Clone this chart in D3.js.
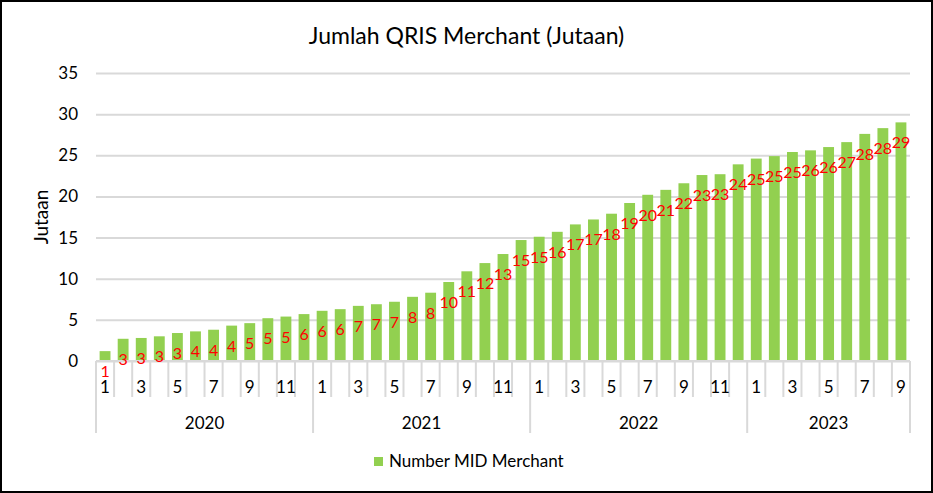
<!DOCTYPE html>
<html>
<head>
<meta charset="utf-8">
<script src="https://cdn.jsdelivr.net/npm/d3@7"></script>
<style>
  body { margin: 0; background: #fff; }
  text { font-family: Lato, "Open Sans", sans-serif; }
</style>
</head>
<body>
<div class="chart"></div>
<script>
// QRIS merchants per month, in millions (Jan 2020 - Sep 2023)
const years = ['2020', '2021', '2022', '2023'];
const monthsPerYear = [12, 12, 12, 9];
const merchants = [
  1.2, 2.7, 2.8, 3.0, 3.4, 3.6, 3.8, 4.3, 4.6, 5.2, 5.4, 5.7,
  6.1, 6.3, 6.7, 6.9, 7.2, 7.8, 8.3, 9.6, 10.9, 11.9, 13.0, 14.7,
  15.1, 15.7, 16.6, 17.2, 17.9, 19.2, 20.2, 20.8, 21.6, 22.6, 22.7, 23.9,
  24.6, 24.9, 25.4, 25.6, 26.0, 26.6, 27.6, 28.3, 29.0
];
const yTicks = [0, 5, 10, 15, 20, 25, 30, 35];

// build category list from years/months
const data = [];
years.forEach((y, yi) => {
  for (let m = 1; m <= monthsPerYear[yi]; m++) {
    data.push({ year: y, month: m, key: y + '-' + m, value: merchants[data.length] });
  }
});

const W = 933, H = 493;
const margin = { top: 73, right: 23, bottom: 132, left: 96 };
const width = W - margin.left - margin.right;
const height = H - margin.top - margin.bottom;

const svg = d3.select('.chart')
  .append('svg')
    .attr('width', W)
    .attr('height', H);

svg.append('rect')
  .attr('x', 1).attr('y', 1)
  .attr('width', W - 2).attr('height', H - 2)
  .attr('fill', '#fff')
  .attr('stroke', '#000')
  .attr('stroke-width', 2);

svg.append('text')
  .attr('x', W / 2).attr('y', 44)
  .attr('text-anchor', 'middle')
  .style('font-size', '23px')
  .attr('fill', '#000')
  .text('Jumlah QRIS Merchant (Jutaan)');

const g = svg.append('g')
  .attr('transform', `translate(${margin.left}, ${margin.top})`);

const xScale = d3.scaleBand()
  .domain(data.map(d => d.key))
  .range([0, width])
  .paddingInner(0.4)
  .paddingOuter(0.2);

const yScale = d3.scaleLinear()
  .domain([0, 35])
  .range([height, 0]);

// gridlines + y labels
const yAxis = g.append('g')
  .call(d3.axisLeft(yScale).tickValues(yTicks).tickSize(-width).tickPadding(18));
yAxis.select('.domain').remove();
yAxis.selectAll('.tick line').attr('stroke', '#d9d9d9').attr('stroke-width', 2);
yAxis.selectAll('.tick text')
  .style('font-size', '17px')
  .attr('fill', '#000');

svg.append('text')
  .attr('transform', `translate(48, 217) rotate(-90)`)
  .attr('text-anchor', 'middle')
  .style('font-size', '19px')
  .text('Jutaan');

// bars
g.selectAll('.bar')
  .data(data)
  .enter()
  .append('rect')
    .attr('class', 'bar')
    .attr('x', d => xScale(d.key))
    .attr('y', d => yScale(d.value))
    .attr('width', xScale.bandwidth())
    .attr('height', d => height - yScale(d.value))
    .attr('fill', '#92d050');

// multi-level category axis
const cat = g.append('g').attr('transform', `translate(0, ${height})`);

cat.append('line')
  .attr('x1', 0).attr('x2', width)
  .attr('y1', 0).attr('y2', 0)
  .attr('stroke', '#d9d9d9').attr('stroke-width', 2);

// month separators, longer at year boundaries
const bounds = d3.range(data.length + 1);
let idx = 0;
const yearStarts = [0];
monthsPerYear.forEach(n => { idx += n; yearStarts.push(idx); });

cat.selectAll('.msep')
  .data(bounds)
  .enter()
  .append('line')
    .attr('x1', i => i * width / data.length)
    .attr('x2', i => i * width / data.length)
    .attr('y1', 0)
    .attr('y2', i => yearStarts.includes(i) ? 72 : 36)
    .attr('stroke', '#d9d9d9')
    .attr('stroke-width', 2);

cat.selectAll('.mlabel')
  .data(data.filter(d => d.month % 2 === 1))
  .enter()
  .append('text')
    .attr('x', d => xScale(d.key) + xScale.bandwidth() / 2)
    .attr('y', 32)
    .attr('text-anchor', 'middle')
    .style('font-size', '17px')
    .text(d => d.month);

cat.selectAll('.ylabel')
  .data(years)
  .enter()
  .append('text')
    .attr('x', (d, i) => (yearStarts[i] + yearStarts[i + 1]) / 2 * width / data.length)
    .attr('y', 68)
    .attr('text-anchor', 'middle')
    .style('font-size', '17px')
    .text(d => d);

// red value labels
g.selectAll('.vlabel')
  .data(data)
  .enter()
  .append('text')
    .attr('x', d => xScale(d.key) + xScale.bandwidth() / 2)
    .attr('y', d => yScale(d.value) + 26)
    .attr('text-anchor', 'middle')
    .style('font-size', '16px')
    .attr('fill', '#ff0000')
    .text(d => d3.format('.0f')(d.value));

// legend
const leg = svg.append('g').attr('transform', 'translate(374, 457)');
leg.append('rect').attr('width', 9).attr('height', 9).attr('fill', '#92d050');
leg.append('text')
  .attr('x', 15).attr('y', 10)
  .style('font-size', '17px')
  .text('Number MID Merchant');
</script>
</body>
</html>
